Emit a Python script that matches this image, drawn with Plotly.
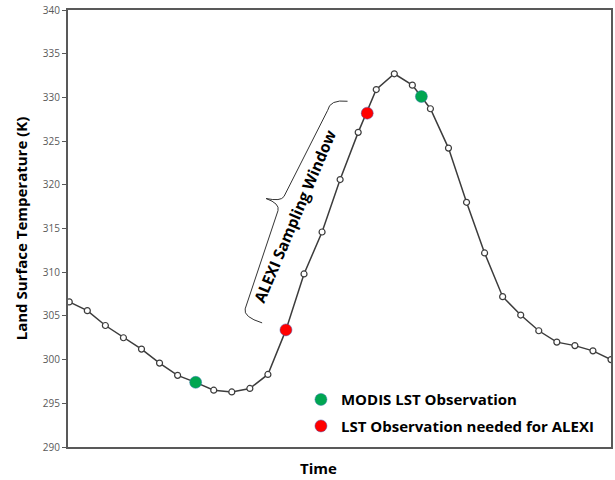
import plotly.graph_objects as go

# Time steps (index) and land surface temperature (K)
time_idx = list(range(31))
lst_values = [306.6, 305.6, 303.9, 302.5, 301.2, 299.6, 298.2, 297.4, 296.5, 296.3,
              296.7, 298.3, 303.4, 309.8, 314.6, 320.6, 326.0, 330.9, 332.7, 331.4,
              328.7, 324.2, 318.0, 312.2, 307.2, 305.1, 303.3, 302.0, 301.6, 301.0, 300.0]

# MODIS observations
modis_x = [7, 19.5]
modis_y = [297.4, 330.1]

# Observations needed for ALEXI
alexi_x = [12, 16.5]
alexi_y = [303.4, 328.2]

y_ticks = [290, 295, 300, 305, 310, 315, 320, 325, 330, 335, 340]

FONT = "Open Sans"
AXIS_COL = "#595959"
LINE_COL = "#3c3c3c"

fig = go.Figure()

fig.add_trace(go.Scatter(
    x=time_idx, y=lst_values, mode="lines+markers", showlegend=False,
    line=dict(color=LINE_COL, width=1.5),
    marker=dict(symbol="circle", size=6, color="white",
                line=dict(color=LINE_COL, width=1.2)),
    hoverinfo="skip"))

fig.add_trace(go.Scatter(
    x=modis_x, y=modis_y, mode="markers", name="MODIS LST Observation",
    legendgroup="g1",
    marker=dict(size=12, color="#00A651", line=dict(color="#3a7ab0", width=0.5))))

fig.add_trace(go.Scatter(
    x=alexi_x, y=alexi_y, mode="markers", name="LST Observation needed for ALEXI",
    legendgroup="g2",
    marker=dict(size=12, color="#FF0000", line=dict(color="#5050a0", width=0.5))))

# Curly bracket marking the ALEXI sampling window
bracket = ("M 15.41,329.56 Q 14.42,329.79 14.31,328.52 L 11.89,318.66 "
           "Q 11.72,318.08 10.90,318.43 Q 11.67,317.85 11.56,317.05 "
           "L 9.74,305.80 Q 9.63,304.88 10.68,304.20")
fig.add_shape(type="path", path=bracket, xref="x", yref="y",
              line=dict(color="#333333", width=1))

fig.add_annotation(x=12.5, y=316.4, xref="x", yref="y",
                   text="<b>ALEXI Sampling Window</b>", showarrow=False,
                   textangle=-67, font=dict(family=FONT, size=15.5, color="black"))

fig.add_annotation(x=0.462, y=-0.048, xref="paper", yref="paper",
                   text="<b>Time</b>", showarrow=False, yanchor="middle",
                   font=dict(family=FONT, size=15, color="black"))

fig.update_layout(
    width=615, height=480,
    margin=dict(l=68, r=2, t=10, b=33),
    plot_bgcolor="white", paper_bgcolor="white",
    font=dict(family=FONT),
    legend=dict(x=0.429, y=0.146, xanchor="left", yanchor="top",
                bgcolor="rgba(0,0,0,0)", tracegroupgap=4,
                font=dict(family=FONT, size=15, color="black", weight="bold")),
    xaxis=dict(range=[-0.07, 30.0], showticklabels=False, ticks="",
               showgrid=False, zeroline=False, showline=True, linecolor=AXIS_COL,
               linewidth=2, mirror=True),
    yaxis=dict(range=[290, 340], tickvals=y_ticks, ticks="outside", ticklen=4,
               tickcolor=AXIS_COL, tickwidth=1, showgrid=False, zeroline=False,
               showline=True, linecolor=AXIS_COL, linewidth=2, mirror=True,
               tickfont=dict(family=FONT, size=10, color=AXIS_COL),
               title=dict(text="<b>Land Surface Temperature (K)</b>", standoff=12,
                          font=dict(family=FONT, size=15, color="black"))),
)

fig.write_html("out.html", config={"displayModeBar": False},
               post_script="document.body.style.margin='0px';")
